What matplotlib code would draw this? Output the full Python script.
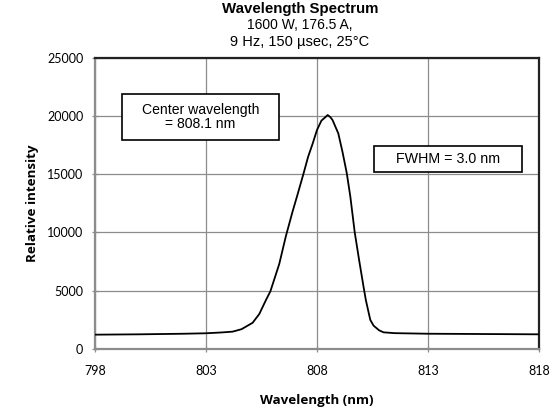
import numpy as np
import matplotlib.pyplot as plt
from matplotlib.patches import Rectangle

## Spectrum data
wavelength = [798.0, 800.0, 802.0, 803.0, 803.7, 804.2, 804.6, 805.1, 805.4, 805.7,
              805.9, 806.3, 806.6, 806.9, 807.1, 807.4, 807.6, 807.8, 808.0, 808.1,
              808.2, 808.35, 808.48, 808.6, 808.7, 808.96, 809.15, 809.34, 809.5, 809.7,
              809.9, 810.1, 810.2, 810.4, 810.55, 810.8, 811.0, 811.5, 813.0, 815.0, 818.0]
intensity = [1230, 1260, 1310, 1350, 1420, 1490, 1700, 2250, 3000, 4200,
             4950, 7300, 9700, 11800, 13100, 15100, 16500, 17600, 18800, 19200,
             19600, 19850, 20080, 19900, 19650, 18500, 16900, 15100, 13100, 10000,
             7600, 5300, 4200, 2500, 2000, 1600, 1430, 1360, 1310, 1290, 1260]

x_ticks = [798, 803, 808, 813, 818]
y_ticks = [0, 5000, 10000, 15000, 20000, 25000]

title_lines = ["Wavelength Spectrum", "1600 W, 176.5 A,", "9 Hz, 150 \u00b5sec, 25\u00b0C"]
center_note = "Center wavelength\n= 808.1 nm"
fwhm_note = "FWHM = 3.0 nm"

W, H = 555, 413
fig = plt.figure(figsize=(W / 100, H / 100), dpi=100)
ax = fig.add_axes([95 / W, 1 - 349 / H, 444 / W, 291.3 / H])

grid_col = '#8c8c8c'
ax.plot(wavelength, intensity, color='black', lw=1.3, zorder=3)
ax.set_xlim(798, 818)
ax.set_ylim(0, 25000)
ax.set_xticks(x_ticks)
ax.set_yticks(y_ticks)
ax.grid(True, color=grid_col, lw=0.9)
ax.set_axisbelow(True)

for s in ['left', 'bottom']:
    ax.spines[s].set_color(grid_col)
    ax.spines[s].set_linewidth(1.6)
for s in ['top', 'right']:
    ax.spines[s].set_color('#222222')
    ax.spines[s].set_linewidth(1.6)

ax.tick_params(direction='inout', length=5, width=0.9, color=grid_col,
               labelsize=9, pad=6)
for lab in ax.get_xticklabels() + ax.get_yticklabels():
    lab.set_family('Lato')
ax.tick_params(axis='x', pad=9)

ax.set_xlabel('Wavelength (nm)', family='Open Sans', fontweight='bold', fontsize=9.6, labelpad=12)
ax.set_ylabel('Relative intensity', family='Open Sans', fontweight='bold', fontsize=9.6, labelpad=6)

## Title lines
fig.text(300 / W, 1 - 9 / H, title_lines[0], ha='center', va='center',
         family='Liberation Sans', fontweight='bold', fontsize=10.8)
fig.text(300 / W, 1 - 25 / H, title_lines[1], ha='center', va='center',
         family='Liberation Sans', fontsize=10)
fig.text(300 / W, 1 - 42 / H, title_lines[2], ha='center', va='center',
         family='Liberation Sans', fontsize=10.5)

## Annotation boxes
def note_box(x0, y0, x1, y1, txt, fs):
    fig.patches.append(Rectangle((x0 / W, 1 - y1 / H), (x1 - x0) / W, (y1 - y0) / H,
                                 transform=fig.transFigure, facecolor='white',
                                 edgecolor='black', lw=1.2, zorder=5))
    fig.text((x0 + x1) / 2 / W, 1 - (y0 + y1) / 2 / H, txt, ha='center', va='center',
             family='Liberation Sans', fontsize=fs, linespacing=1.0, zorder=6)

note_box(122, 94, 279, 140, center_note, 10.1)
note_box(374, 146, 522, 172, fwhm_note, 10.3)

fig.savefig('out.png', dpi=100)
